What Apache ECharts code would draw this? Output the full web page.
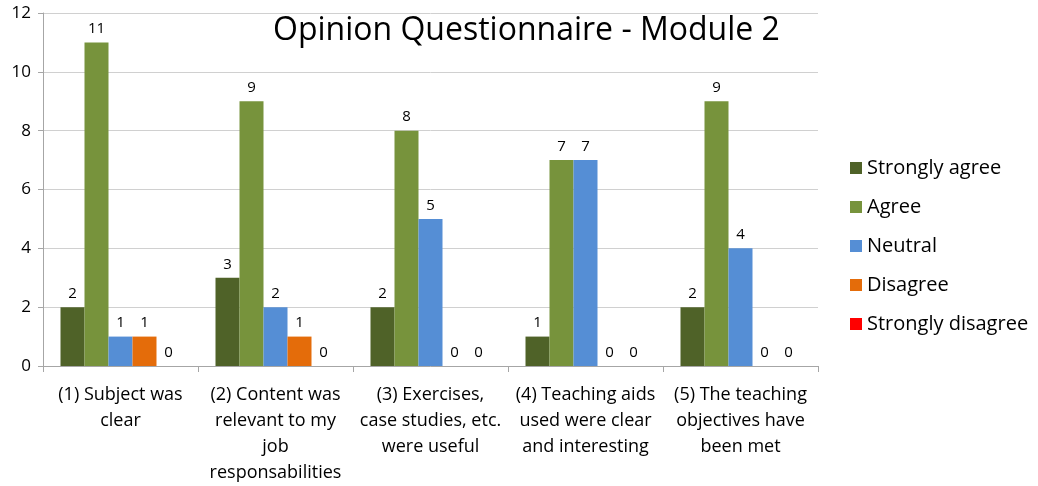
<!DOCTYPE html>
<html><head><meta charset="utf-8">
<script src="https://cdn.jsdelivr.net/npm/echarts@6/dist/echarts.min.js"></script>
<style>html,body{margin:0;padding:0;background:#fff}#c{width:1038px;height:486px}</style>
</head><body><div id="c"></div>
<script>
const categories = [
  "(1) Subject was\nclear",
  "(2) Content was\nrelevant to my\njob\nresponsabilities",
  "(3) Exercises,\ncase studies, etc.\nwere useful",
  "(4) Teaching aids\nused were clear\nand interesting",
  "(5) The teaching\nobjectives have\nbeen met"
];
const seriesNames = ["Strongly agree","Agree","Neutral","Disagree","Strongly disagree"];
const stronglyAgree = [2,3,2,1,2];
const agree = [11,9,8,7,9];
const neutral = [1,2,5,7,4];
const disagree = [1,1,0,0,0];
const stronglyDisagree = [0,0,0,0,0];
const colors = ["#4f6228","#77933c","#558ed5","#e46c0a","#ff0000"];
const values = [stronglyAgree, agree, neutral, disagree, stronglyDisagree];
const FONT = "'Open Sans', sans-serif";

const chart = echarts.init(document.getElementById('c'));
chart.setOption({
  animation:false,
  textStyle:{fontFamily:FONT},
  title:{text:"Opinion Questionnaire - Module 2", left:268, top:10,
    textStyle:{fontFamily:FONT, fontSize:32, fontWeight:'normal', color:'#000'}},
  legend:{orient:'vertical', left:845, top:153, itemGap:19, itemWidth:12, itemHeight:12,
    icon:'rect', textStyle:{fontFamily:FONT, fontSize:20, color:'#000'},
    data:seriesNames},
  grid:{left:43, right:220, top:13, bottom:118},
  xAxis:{type:'category', data:categories,
    axisLine:{lineStyle:{color:'#a6a6a6'}},
    axisTick:{show:true, length:6, lineStyle:{color:'#a6a6a6'}},
    axisLabel:{interval:0, margin:16, fontSize:18, lineHeight:26, color:'#000', fontFamily:FONT}},
  yAxis:{type:'value', min:0, max:12, interval:2,
    axisLine:{show:true, lineStyle:{color:'#a6a6a6'}},
    axisTick:{show:true, length:5, lineStyle:{color:'#a6a6a6'}},
    splitLine:{lineStyle:{color:'#d0d0d0'}},
    axisLabel:{fontSize:17, color:'#000', margin:12, fontFamily:FONT}},
  series: seriesNames.map((n,i)=>({
    name:n, type:'bar', data:values[i], barWidth:24, barGap:'0%',
    itemStyle:{color:colors[i]},
    label:{show:true, position:'top', distance:6, fontSize:15, color:'#000', fontFamily:FONT}
  }))
});
</script></body></html>
